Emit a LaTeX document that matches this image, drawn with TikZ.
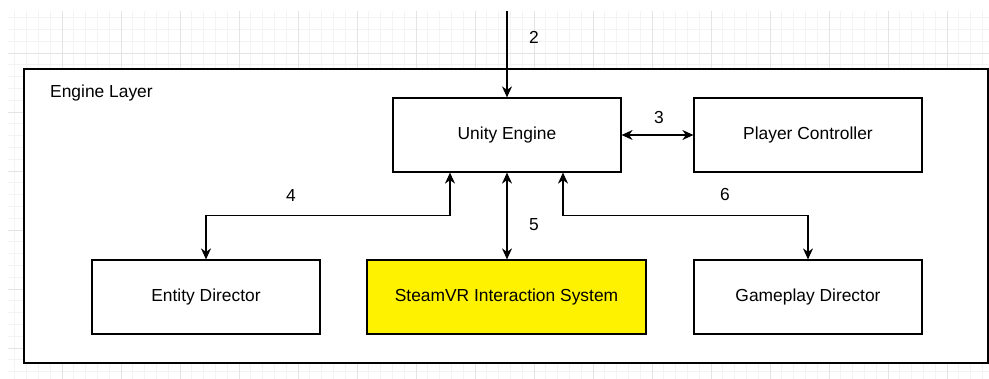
\documentclass[tikz,border=0pt]{standalone}
\usepackage{fontspec}
\setmainfont{Liberation Sans}
\usetikzlibrary{arrows.meta}
\definecolor{gridminor}{HTML}{F3F3F3}
\definecolor{gridmajor}{HTML}{E4E4E4}
\begin{document}
\begin{tikzpicture}[x=1pt,y=-1pt,
  txt/.style={font=\fontsize{17.4}{20}\selectfont},
  box/.style={draw=black,line width=1.2pt,fill=white,minimum width=228pt,minimum height=74pt,inner sep=0pt,txt},
  conn/.style={draw=black,line width=1.2pt},
  tip/.style={conn,-{Stealth[length=11pt,width=10pt,inset=3.5pt]}},
  dtip/.style={conn,{Stealth[length=11pt,width=10pt,inset=3.5pt]}-{Stealth[length=11pt,width=10pt,inset=3.5pt]}},
  lbl/.style={txt,inner sep=0pt}]
\useasboundingbox (0,0) rectangle (989,379);
% grid
\begin{scope}
\clip (8,11) rectangle (989,379);
\foreach \x in {14.8,26.6,...,989} \draw[gridminor,line width=0.8pt] (\x,11) -- (\x,379);
\foreach \y in {5.8,17.6,...,379} \draw[gridminor,line width=0.8pt] (8,\y) -- (989,\y);
\foreach \x in {3,62,...,989} \draw[gridmajor,line width=0.8pt] (\x,11) -- (\x,379);
\foreach \y in {-6,53,...,379} \draw[gridmajor,line width=0.8pt] (8,\y) -- (989,\y);
\end{scope}
% outer layer
\node[draw=black,line width=1.2pt,fill=white,minimum width=964pt,minimum height=294pt,inner sep=0pt] (layer) at (506,216) {};
\node[lbl,anchor=west] (layerlbl) at (50,93) {Engine Layer};
% boxes
\node[box] (unity) at (507,135) {Unity Engine};
\node[box] (pc) at (808,135) {Player Controller};
\node[box] (ent) at (206,297) {Entity Director};
\node[box,fill=yellow,minimum width=279pt] (steam) at (506.5,297) {SteamVR Interaction System};
\node[box] (gp) at (808,297) {Gameplay Director};
% connectors
\coordinate (topin) at (507,11);
\draw[tip] (topin) -- (unity.north);
\draw[dtip] (unity.east) -- (pc.west);
\draw[dtip] (ent.north) -- ++(0,-44) -| ([xshift=-57pt]unity.south);
\draw[dtip] (unity.south) -- (unity.south |- steam.north);
\draw[dtip] (gp.north) -- ++(0,-44) -| ([xshift=56pt]unity.south);
% labels
\node[lbl] (l2) at (534,37) {2};
\node[lbl] (l3) at (659,118) {3};
\node[lbl] (l4) at (291,196) {4};
\node[lbl] (l5) at (534,225) {5};
\node[lbl] (l6) at (725,195) {6};
\end{tikzpicture}
\end{document}
